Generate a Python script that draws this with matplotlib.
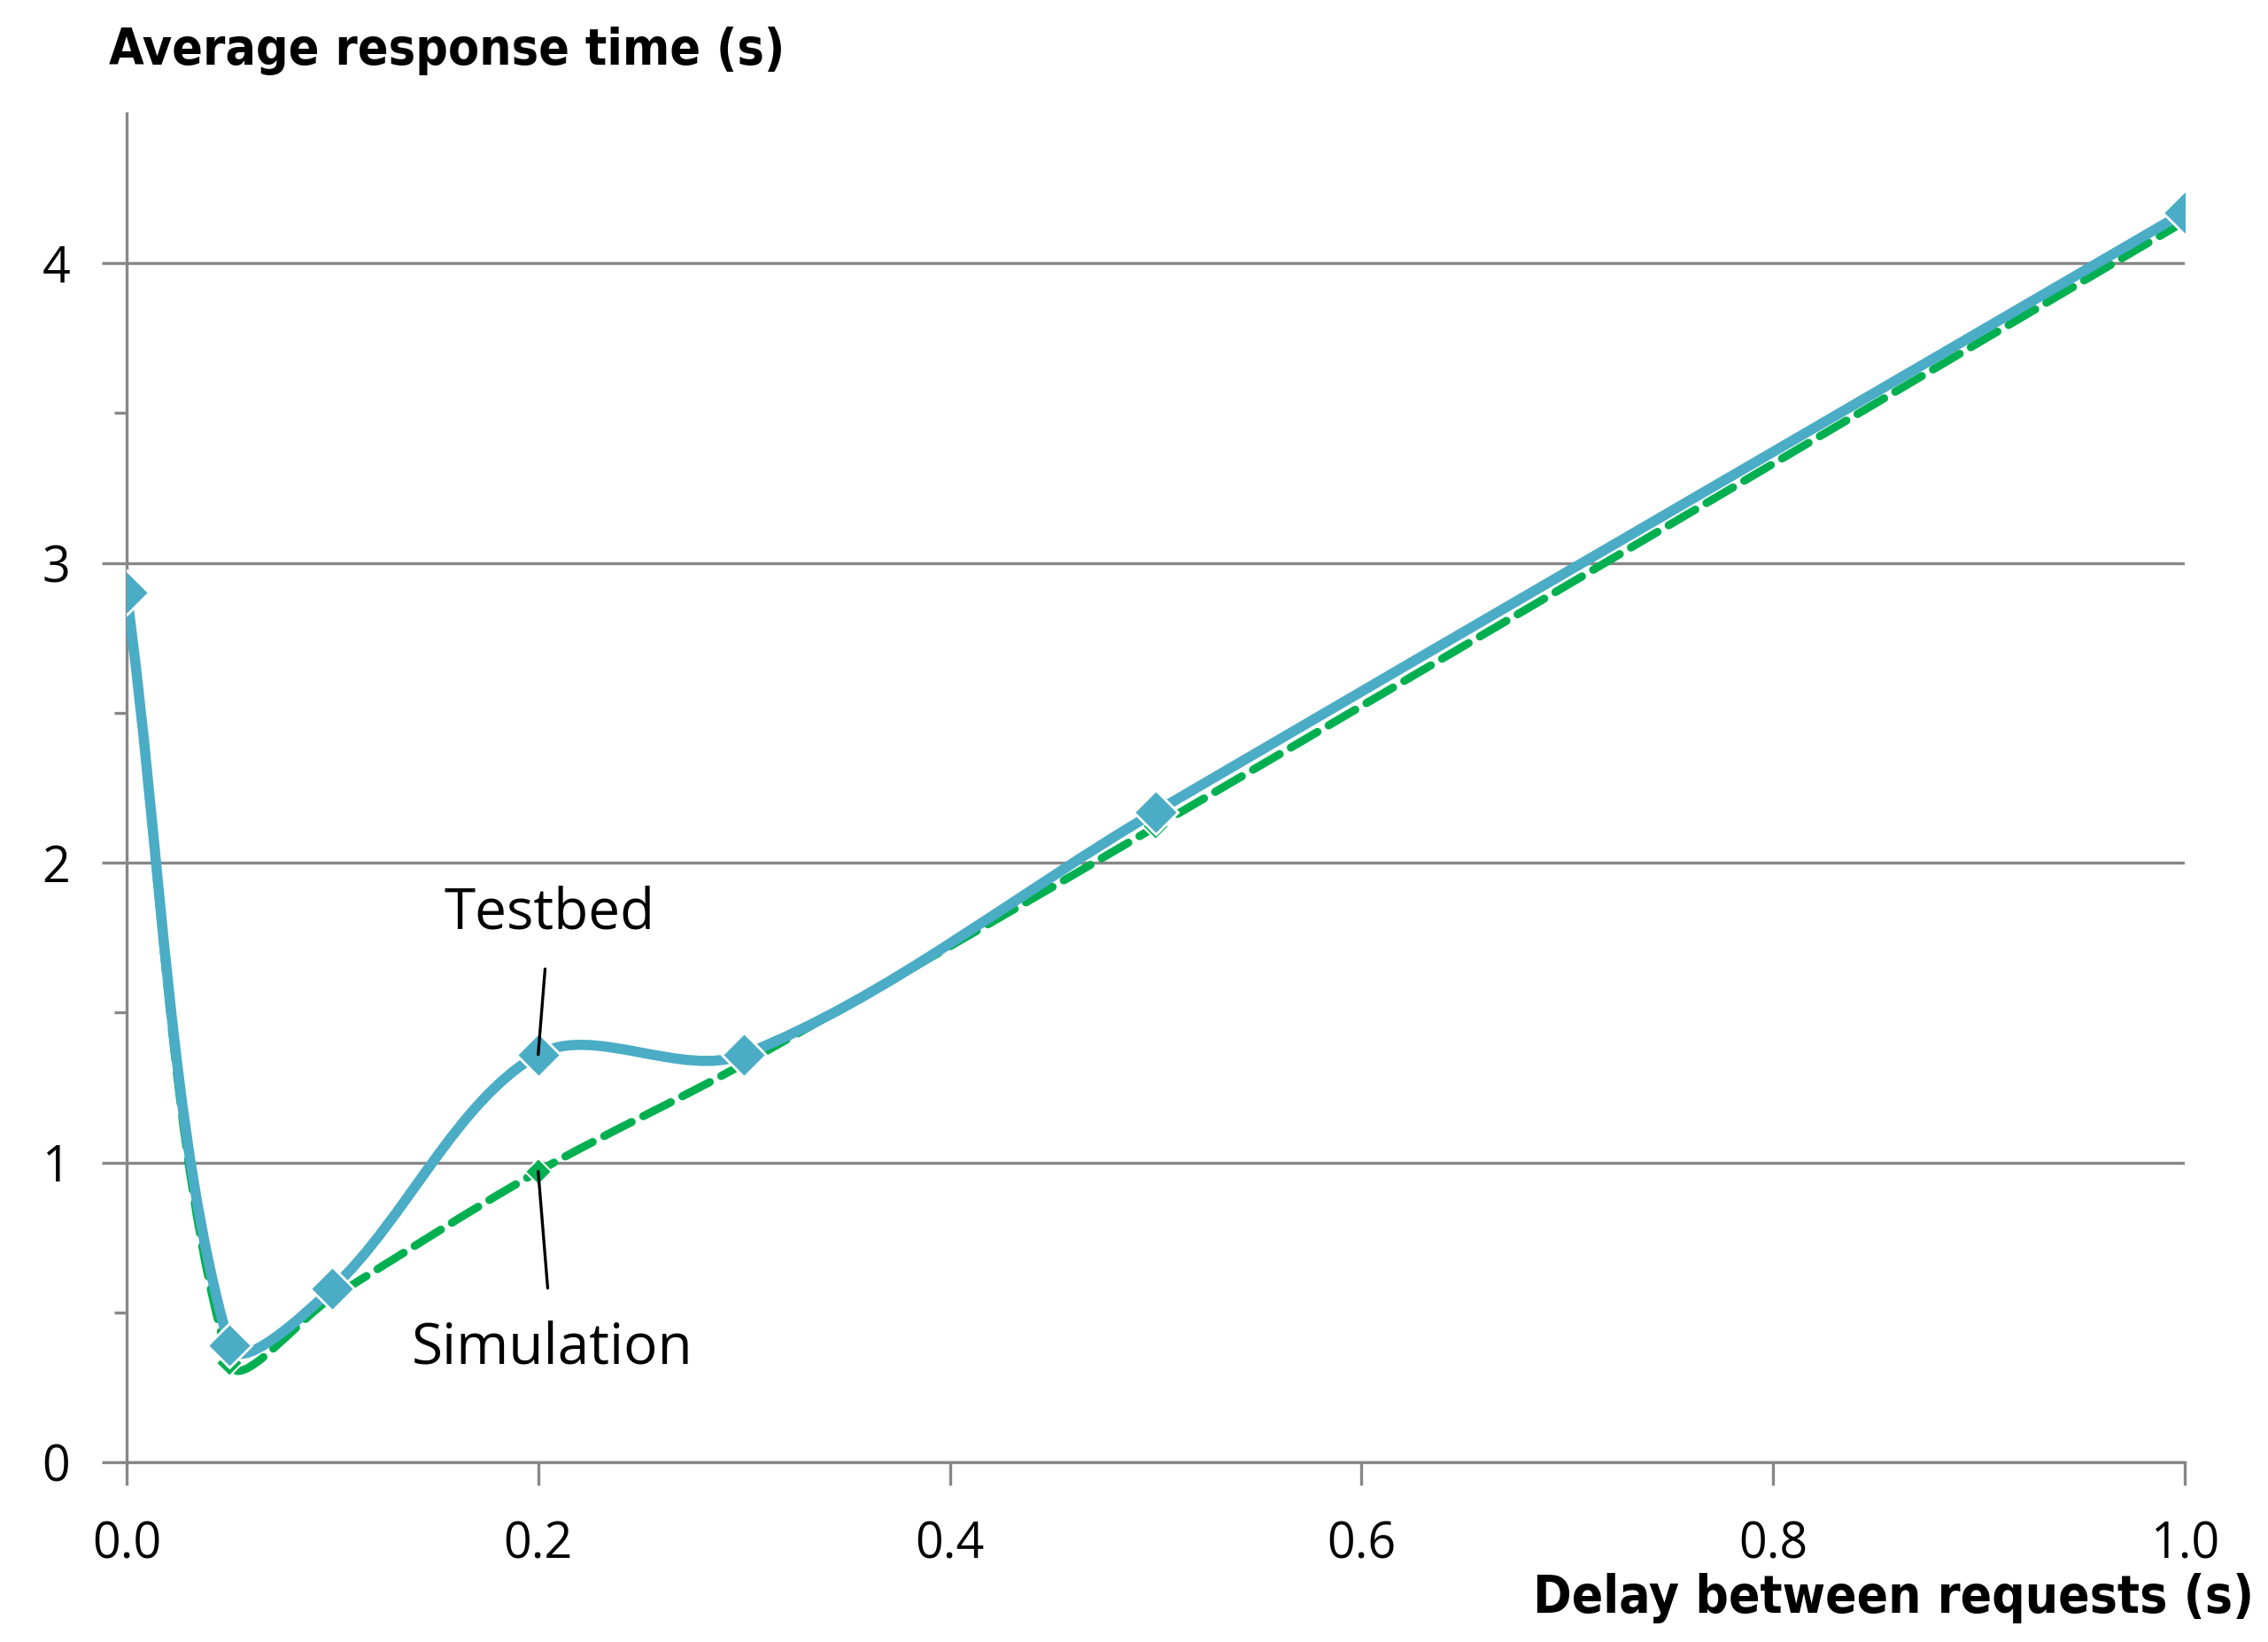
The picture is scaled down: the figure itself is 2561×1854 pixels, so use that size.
import numpy as np
import matplotlib.pyplot as plt
from matplotlib.path import Path
from matplotlib.patches import PathPatch

# data
delay = [0.0, 0.05, 0.1, 0.2, 0.3, 0.5, 1.0]
testbed = [2.90, 0.39, 0.58, 1.36, 1.36, 2.17, 4.17]
simulation = [2.90, 0.33, 0.55, 0.97, 1.33, 2.12, 4.14]
x_ticks = [0.0, 0.2, 0.4, 0.6, 0.8, 1.0]
x_labels = ['0.0', '0.2', '0.4', '0.6', '0.8', '1.0']
y_ticks = [0, 1, 2, 3, 4]

BLUE = '#4BACC6'
GREEN = '#00B050'
GRAY = '#878787'

plt.rcParams['font.family'] = ['Open Sans', 'DejaVu Sans']


def smooth_path(xs, ys, sx, sy):
    # Excel-like smoothed line: cubic Bezier segments, tangents weighted by chord length
    P = np.column_stack([np.asarray(xs) * sx, np.asarray(ys) * sy])
    n = len(P)
    verts = [P[0]]
    codes = [Path.MOVETO]
    for i in range(n - 1):
        p0 = P[i - 1] if i > 0 else P[i]
        p1, p2 = P[i], P[i + 1]
        p3 = P[i + 2] if i + 2 < n else P[i + 1]
        d01 = np.linalg.norm(p1 - p0)
        d12 = np.linalg.norm(p2 - p1)
        d23 = np.linalg.norm(p3 - p2)
        c1 = p1 + (p2 - p0) * d12 / (d01 + d12) / 3
        c2 = p2 - (p3 - p1) * d12 / (d12 + d23) / 3
        verts += [c1, c2, p2]
        codes += [Path.CURVE4] * 3
    verts = np.array(verts) / [sx, sy]
    return Path(verts, codes)


fig = plt.figure(figsize=(25.61, 18.54), dpi=100)
ax = fig.add_axes([0.0558, 0.1095, 0.9075, 0.8215])
ax.set_xlim(0, 1.0)
ax.set_ylim(0, 4.5)

# axes size in pixels, used to smooth in screen space
bbox = ax.get_window_extent()
sx = bbox.width / 1.0
sy = bbox.height / 4.5

sim_patch = PathPatch(smooth_path(delay, simulation, sx, sy), fill=False,
                      edgecolor=GREEN, lw=6.6, linestyle=(0, (3.8, 1.6)),
                      capstyle='round', zorder=3)
ax.add_patch(sim_patch)
ax.plot(delay, simulation, linestyle='none', marker='D', ms=15,
        mfc=GREEN, mec='white', mew=1.5, zorder=3)

tb_patch = PathPatch(smooth_path(delay, testbed, sx, sy), fill=False,
                     edgecolor=BLUE, lw=8.3, capstyle='round', zorder=4)
ax.add_patch(tb_patch)
ax.plot(delay, testbed, linestyle='none', marker='D', ms=25,
        mfc=BLUE, mec='white', mew=2, zorder=5)

ax.set_xticks(x_ticks)
ax.set_xticklabels(x_labels)
ax.set_yticks(y_ticks)
ax.set_yticks(np.arange(0.5, 4.5, 1.0), minor=True)
ax.grid(axis='y', which='major', color=GRAY, lw=2.4)
ax.set_axisbelow(True)

for s in ['top', 'right']:
    ax.spines[s].set_visible(False)
for s in ['left', 'bottom']:
    ax.spines[s].set_color(GRAY)
    ax.spines[s].set_linewidth(2.4)

ax.tick_params(axis='y', which='major', length=20, width=2.4, color=GRAY,
               labelsize=40, pad=26)
ax.tick_params(axis='y', which='minor', length=10, width=2.4, color=GRAY)
ax.tick_params(axis='x', which='major', length=19, width=2.4, color=GRAY,
               labelsize=40, pad=28)
ax.tick_params(axis='x', which='minor', bottom=False)

ax.annotate('Testbed', xy=(0.2, 1.36), xytext=(0.2055, 1.83),
            fontsize=46, ha='center', va='center', zorder=6,
            arrowprops=dict(arrowstyle='-', color='black', lw=2.4,
                            shrinkA=20, shrinkB=0))
ax.annotate('Simulation', xy=(0.2, 0.97), xytext=(0.207, 0.38),
            fontsize=46, ha='center', va='center', zorder=6,
            arrowprops=dict(arrowstyle='-', color='black', lw=2.4,
                            shrinkA=24, shrinkB=0))

fig.text(0.048, 0.969, 'Average response time (s)', fontsize=41,
         fontweight='bold', fontstretch='condensed', family='DejaVu Sans',
         ha='left', va='center')
fig.text(0.9937, 0.0265, 'Delay between requests (s)', fontsize=42,
         fontweight='bold', fontstretch='condensed', family='DejaVu Sans',
         ha='right', va='center')

fig.savefig('out.png', dpi=100)
